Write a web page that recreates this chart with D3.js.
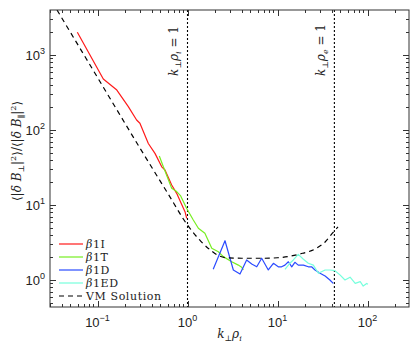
<!DOCTYPE html>
<html>
<head>
<meta charset="utf-8">
<script src="https://cdn.jsdelivr.net/npm/d3@7/dist/d3.min.js"></script>
<style>
  html, body { margin: 0; padding: 0; background: #fff; }
  svg text { font-family: "DejaVu Serif", "Liberation Serif", serif; }
  .tick-label { font-family: "Liberation Sans", Arial, sans-serif; font-size: 13px; fill: #222; }
</style>
</head>
<body>
<svg id="chart" width="415" height="345"></svg>
<script>
// ---- data ----
const vmK = [0.0355, 0.1, 0.3, 0.6, 1.0, 1.4, 1.8, 2.2, 2.7, 4, 7, 10, 14, 19, 27, 34, 42, 47];
const vmV = [3981, 502, 56, 14.5, 5.4, 3.3, 2.5, 2.12, 1.98, 1.95, 1.95, 1.98, 2.08, 2.27, 2.64, 3.24, 4.4, 5.1];

const iK = [0.0597, 0.116, 0.164, 0.22, 0.272, 0.296, 0.367, 0.435, 0.517, 0.562, 0.667, 0.758, 0.84, 0.938, 0.98];
const iV = [2009, 478, 341, 205, 136, 123, 66, 48.8, 32.3, 29.3, 18.5, 14.3, 10.9, 8.15, 6.64];

const tK = [0.486, 0.539, 0.667, 0.758, 0.84, 0.98, 1.16, 1.32, 1.56, 1.86, 2.2, 2.5, 3.1, 3.67, 4.0, 4.17];
const tV = [45, 32.3, 16.7, 15.1, 13.2, 9.0, 6.31, 4.9, 4.19, 2.65, 2.38, 2.05, 1.75, 1.58, 1.48, 1.36];

const dK = [1.93, 2.61, 3.23, 3.83, 4.54, 5.17, 5.88, 6.67, 7.9, 9.0, 10.2, 11.1, 12.1, 13.2, 14.4, 15.6, 17.0, 19.4, 22.0, 23.9, 26.1, 29.7, 33.8, 38.2, 41.6];
const dV = [1.39, 3.34, 1.36, 1.2, 1.85, 1.63, 1.5, 1.95, 1.36, 1.67, 1.5, 1.5, 1.58, 1.75, 1.5, 1.72, 1.58, 1.58, 1.5, 1.5, 1.36, 1.23, 1.13, 1.0, 0.9];

const edK = [12.1, 13.7, 15.0, 17.0, 19.4, 22.0, 25.0, 28.5, 33.8, 38.2, 43.5, 49.4, 56.2, 64, 73, 83, 89.6, 98, 101];
const edV = [1.39, 1.67, 1.85, 2.2, 1.89, 1.67, 1.58, 1.23, 1.36, 1.36, 1.33, 1.17, 1.0, 1.09, 0.9, 0.95, 0.83, 0.9, 0.88];

const vLines = [1, 42.85];
const xTicks = [0.1, 1, 10, 100];
const xTickExp = ["\u22121", "0", "1", "2"];
const yTicks = [1, 10, 100, 1000];
const yTickExp = ["0", "1", "2", "3"];
const legendNames = ["1I", "1T", "1D", "1ED"];
const seriesColors = ["#ff1a1a", "#77ee22", "#2b4bff", "#77ffdd"];

// ---- layout ----
const W = 415, H = 345;
const m = { left: 50, top: 10, right: 6, bottom: 38 };
const pw = W - m.left - m.right, ph = H - m.top - m.bottom;

const x = d3.scaleLog().domain([Math.pow(10, -1.5278), Math.pow(10, 2.461)]).range([m.left, m.left + pw]);
const y = d3.scaleLog().domain([Math.pow(10, -0.36), Math.pow(10, 3.6)]).range([m.top + ph, m.top]);

const svg = d3.select("#chart");

svg.append("defs").append("clipPath").attr("id", "clip")
  .append("rect").attr("x", m.left).attr("y", m.top).attr("width", pw).attr("height", ph);

const plot = svg.append("g").attr("clip-path", "url(#clip)");

// vertical reference lines
plot.selectAll("line.vref").data(vLines).enter().append("line")
  .attr("x1", d => x(d)).attr("x2", d => x(d))
  .attr("y1", m.top).attr("y2", m.top + ph)
  .attr("stroke", "#000").attr("stroke-width", 1.1).attr("stroke-dasharray", "2,2");

const line = d3.line().x(d => x(d[0])).y(d => y(d[1]));
const lineSmooth = d3.line().x(d => x(d[0])).y(d => y(d[1])).curve(d3.curveMonotoneX);

const series = [[iK, iV], [tK, tV], [dK, dV], [edK, edV]];
series.forEach((s, i) => {
  plot.append("path")
    .datum(s[0].map((k, j) => [k, s[1][j]]))
    .attr("d", line)
    .attr("fill", "none").attr("stroke", seriesColors[i]).attr("stroke-width", 1.2)
    .attr("stroke-linejoin", "round");
});

plot.append("path")
  .datum(vmK.map((k, j) => [k, vmV[j]]))
  .attr("d", lineSmooth)
  .attr("fill", "none").attr("stroke", "#000").attr("stroke-width", 1.2)
  .attr("stroke-dasharray", "5,4");

// ---- axes frame ----
svg.append("rect").attr("x", m.left).attr("y", m.top).attr("width", pw).attr("height", ph)
  .attr("fill", "none").attr("stroke", "#333").attr("stroke-width", 1);

function minorTicks(scale) {
  const [a, b] = scale.domain();
  const out = [];
  for (let e = Math.floor(Math.log10(a)); e <= Math.ceil(Math.log10(b)); e++) {
    for (let k = 1; k <= 9; k++) {
      const v = k * Math.pow(10, e);
      if (v >= a && v <= b) out.push({ v, major: k === 1 });
    }
  }
  return out;
}
const tk = svg.append("g").attr("stroke", "#333").attr("stroke-width", 1);
minorTicks(x).forEach(t => {
  const L = t.major ? 6 : 3;
  const xx = Math.round(x(t.v)) + 0.5;
  tk.append("line").attr("x1", xx).attr("x2", xx).attr("y1", m.top + ph).attr("y2", m.top + ph - L);
  tk.append("line").attr("x1", xx).attr("x2", xx).attr("y1", m.top).attr("y2", m.top + L);
});
minorTicks(y).forEach(t => {
  const L = t.major ? 6 : 3;
  const yy = Math.round(y(t.v)) + 0.5;
  tk.append("line").attr("y1", yy).attr("y2", yy).attr("x1", m.left).attr("x2", m.left + L);
  tk.append("line").attr("y1", yy).attr("y2", yy).attr("x1", m.left + pw).attr("x2", m.left + pw - L);
});

// tick labels
xTicks.forEach((v, i) => {
  const t = svg.append("text").attr("class", "tick-label")
    .attr("x", x(v)).attr("y", m.top + ph + 20).attr("text-anchor", "middle");
  t.append("tspan").text("10");
  t.append("tspan").attr("dy", -6).attr("font-size", 9).text(xTickExp[i]);
});
yTicks.forEach((v, i) => {
  const t = svg.append("text").attr("class", "tick-label")
    .attr("x", m.left - 5).attr("y", y(v) + 5).attr("text-anchor", "end");
  t.append("tspan").text("10");
  t.append("tspan").attr("dy", -6).attr("font-size", 9).text(yTickExp[i]);
});

// ---- axis titles ----
const xt = svg.append("text").attr("x", m.left + pw / 2).attr("y", 338)
  .attr("text-anchor", "middle").attr("font-size", 12).attr("fill", "#222");
xt.append("tspan").attr("font-style", "italic").text("k");
xt.append("tspan").attr("font-size", 8).attr("dy", 3).text("\u22A5");
xt.append("tspan").attr("font-style", "italic").attr("dy", -3).text("\u03C1");
xt.append("tspan").attr("font-style", "italic").attr("font-size", 8).attr("dy", 3).text("i");

const yt = svg.append("text").attr("transform", "translate(21,151) rotate(-90)")
  .attr("text-anchor", "middle").attr("font-size", 12).attr("fill", "#222");
function yl(txt, opts) {
  const s = yt.append("tspan").text(txt);
  if (opts && opts.it) s.attr("font-style", "italic");
  if (opts && opts.fs) s.attr("font-size", opts.fs);
  if (opts && opts.dy) s.attr("dy", opts.dy);
}
yl("\u27E8|");
yl("\u03B4", { it: 1 }); yl(" "); yl("B", { it: 1 });
yl("\u22A5", { fs: 8, dy: 3 });
yl("|", { dy: -3 }); yl("2", { fs: 8, dy: -5 });
yl("\u27E9/\u27E8|", { dy: 5 });
yl("\u03B4", { it: 1 }); yl(" "); yl("B", { it: 1 });
yl("\u2225", { fs: 8, dy: 3 });
yl("|", { dy: -3 }); yl("2", { fs: 8, dy: -5 });
yl("\u27E9", { dy: 5 });

// ---- vertical annotations ----
function annot(cx, cy, sub) {
  const t = svg.append("text").attr("transform", `translate(${cx},${cy}) rotate(-90)`)
    .attr("text-anchor", "middle").attr("font-size", 12).attr("fill", "#222");
  t.append("tspan").attr("font-style", "italic").text("k");
  t.append("tspan").attr("font-size", 8).attr("dy", 3).text("\u22A5");
  t.append("tspan").attr("font-style", "italic").attr("dy", -3).text("\u03C1");
  t.append("tspan").attr("font-style", "italic").attr("font-size", 8).attr("dy", 3).text(sub);
  t.append("tspan").attr("dy", -3).text(" = 1");
}
annot(178, 51, "i");
annot(325, 50, "e");

// ---- legend ----
const lg = svg.append("g");
const ly0 = 244, lstep = 13;
legendNames.forEach((n, i) => {
  const yy = ly0 + i * lstep;
  lg.append("line").attr("x1", 59).attr("x2", 83).attr("y1", yy).attr("y2", yy)
    .attr("stroke", seriesColors[i]).attr("stroke-width", 1.2);
  const t = lg.append("text").attr("x", 86).attr("y", yy + 4).attr("font-size", 11)
    .attr("letter-spacing", 0.6).attr("fill", "#222");
  t.append("tspan").attr("font-style", "italic").text("\u03B2");
  t.append("tspan").text(n);
});
{
  const yy = ly0 + 4 * lstep;
  lg.append("line").attr("x1", 59).attr("x2", 83).attr("y1", yy).attr("y2", yy)
    .attr("stroke", "#000").attr("stroke-width", 1.2).attr("stroke-dasharray", "5,4");
  lg.append("text").attr("x", 86).attr("y", yy + 4).attr("font-size", 11)
    .attr("letter-spacing", 0.6).attr("fill", "#222").text("VM Solution");
}
</script>
</body>
</html>
